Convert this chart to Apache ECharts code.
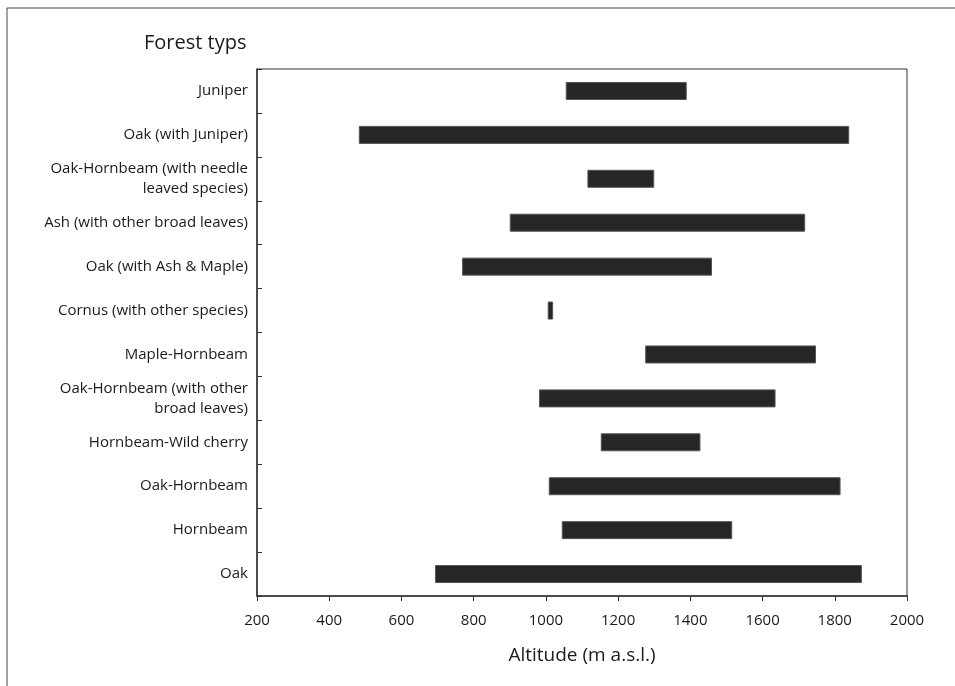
<!DOCTYPE html>
<html>
<head>
<meta charset="utf-8">
<script src="https://cdn.jsdelivr.net/npm/echarts@6/dist/echarts.min.js"></script>
<style>html,body{margin:0;padding:0;background:#fff}#c{width:955px;height:686px}</style>
</head>
<body>
<div id="c"></div>
<script>
var categories = [
  'Juniper',
  'Oak (with Juniper)',
  'Oak-Hornbeam (with needle\nleaved species)',
  'Ash (with other broad leaves)',
  'Oak (with Ash & Maple)',
  'Cornus (with other species)',
  'Maple-Hornbeam',
  'Oak-Hornbeam (with other\nbroad leaves)',
  'Hornbeam-Wild cherry',
  'Oak-Hornbeam',
  'Hornbeam',
  'Oak'
];
var startAltitude = [1055, 482, 1115, 900, 768, 1005, 1275, 981, 1152, 1008, 1044, 693];
var endAltitude   = [1390, 1840, 1300, 1718, 1460, 1020, 1748, 1636, 1428, 1816, 1516, 1875];
var xTicks = [200, 400, 600, 800, 1000, 1200, 1400, 1600, 1800, 2000];

var rangeLength = endAltitude.map(function (e, i) { return e - startAltitude[i]; });

var chart = echarts.init(document.getElementById('c'));
var font = '"Open Sans", "Noto Sans", sans-serif';
chart.setOption({
  animation: false,
  backgroundColor: '#fff',
  textStyle: { fontFamily: font },
  graphic: [
    { type: 'rect', shape: { x: 7, y: 8, width: 1000, height: 1000 },
      style: { fill: 'none', stroke: '#444', lineWidth: 1 }, silent: true },
    { type: 'text', left: 144, top: 33,
      style: { text: 'Forest typs', font: '20px ' + font, fill: '#1a1a1a' } }
  ],
  grid: { left: 257, right: 48, top: 69, bottom: 90, show: true,
          borderColor: '#333', borderWidth: 1, backgroundColor: 'transparent' },
  xAxis: {
    type: 'value', min: xTicks[0], max: xTicks[xTicks.length - 1], interval: 200,
    name: 'Altitude (m a.s.l.)', nameLocation: 'middle', nameGap: 50,
    nameTextStyle: { fontSize: 19, color: '#1a1a1a', fontFamily: font },
    axisLine: { show: true, lineStyle: { color: '#333', width: 1.5 } },
    axisTick: { show: true, inside: false, length: 5, lineStyle: { color: '#333' } },
    axisLabel: { fontSize: 15, color: '#1a1a1a', margin: 17, fontFamily: font,
                 formatter: function (v) { return String(v); } },
    splitLine: { show: false }
  },
  yAxis: {
    type: 'category', data: categories, inverse: true,
    axisLine: { show: true, lineStyle: { color: '#333', width: 1.5 } },
    axisTick: { show: true, inside: true, length: 5, lineStyle: { color: '#333' } },
    axisLabel: { fontSize: 15, color: '#1a1a1a', margin: 9, lineHeight: 20, align: 'right', fontFamily: font },
    splitLine: { show: false }
  },
  series: [
    { type: 'bar', stack: 'r', data: startAltitude, barWidth: 18, silent: true,
      itemStyle: { color: 'transparent' } },
    { type: 'bar', stack: 'r', data: rangeLength, barWidth: 18,
      itemStyle: { color: '#262626', borderColor: '#555', borderWidth: 1 } }
  ]
});
</script>
</body>
</html>
